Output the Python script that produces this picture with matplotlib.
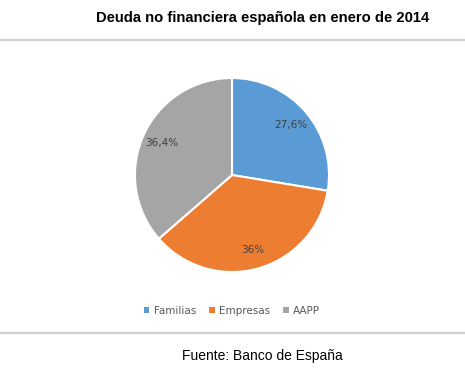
import numpy as np
import matplotlib.pyplot as plt
from matplotlib.lines import Line2D
from matplotlib.patches import Patch

categories = ["Familias", "Empresas", "AAPP"]
shares = [27.6, 36.0, 36.4]
share_labels = ["27,6%", "36%", "36,4%"]
colors = ["#5B9BD5", "#ED7D31", "#A5A5A5"]

W, H = 465, 370
fig = plt.figure(figsize=(W / 100, H / 100), dpi=100)

# pie centered at (232, 175) px, radius 97 px
cx, cy, r = 232, 175, 97
ax = fig.add_axes([(cx - r) / W, (H - cy - r) / H, 2 * r / W, 2 * r / H])
wedges, texts = ax.pie(shares, colors=colors, startangle=90, counterclock=False,
                       wedgeprops=dict(edgecolor="white", linewidth=1.5))
ax.set_xlim(-1, 1)
ax.set_ylim(-1, 1)
ax.set_aspect("equal")
ax.axis("off")

# percent labels at the middle of each wedge
start = 90.0
for val, lab in zip(shares, share_labels):
    span = val / sum(shares) * 360
    mid = np.deg2rad(start - span / 2)
    ax.text(0.8 * np.cos(mid), 0.8 * np.sin(mid), lab, ha="center", va="center",
            fontsize=7.5, color="#404040", family="DejaVu Sans")
    start -= span

fig.text(263 / W, 1 - 18 / H, "Deuda no financiera española en enero de 2014",
         ha="center", va="center", fontsize=10.6, fontweight="bold",
         family="Liberation Sans", color="black")
fig.text(262 / W, 1 - 356 / H, "Fuente: Banco de España", ha="center", va="center",
         fontsize=10, family="Liberation Sans", color="black")

for y in (40, 333):
    fig.add_artist(Line2D([0, 1], [1 - y / H, 1 - y / H], color="#d0d0d0", linewidth=1.6))

handles = [Patch(facecolor=c, edgecolor="none") for c in colors]
leg = fig.legend(handles, categories, loc="center", bbox_to_anchor=(232 / W, 1 - 311 / H),
                 ncol=3, frameon=False, fontsize=7.5, handlelength=0.5, handleheight=0.5,
                 handletextpad=0.4, columnspacing=1.3)
for t in leg.get_texts():
    t.set_color("#595959")

fig.savefig("out.png", dpi=100)
